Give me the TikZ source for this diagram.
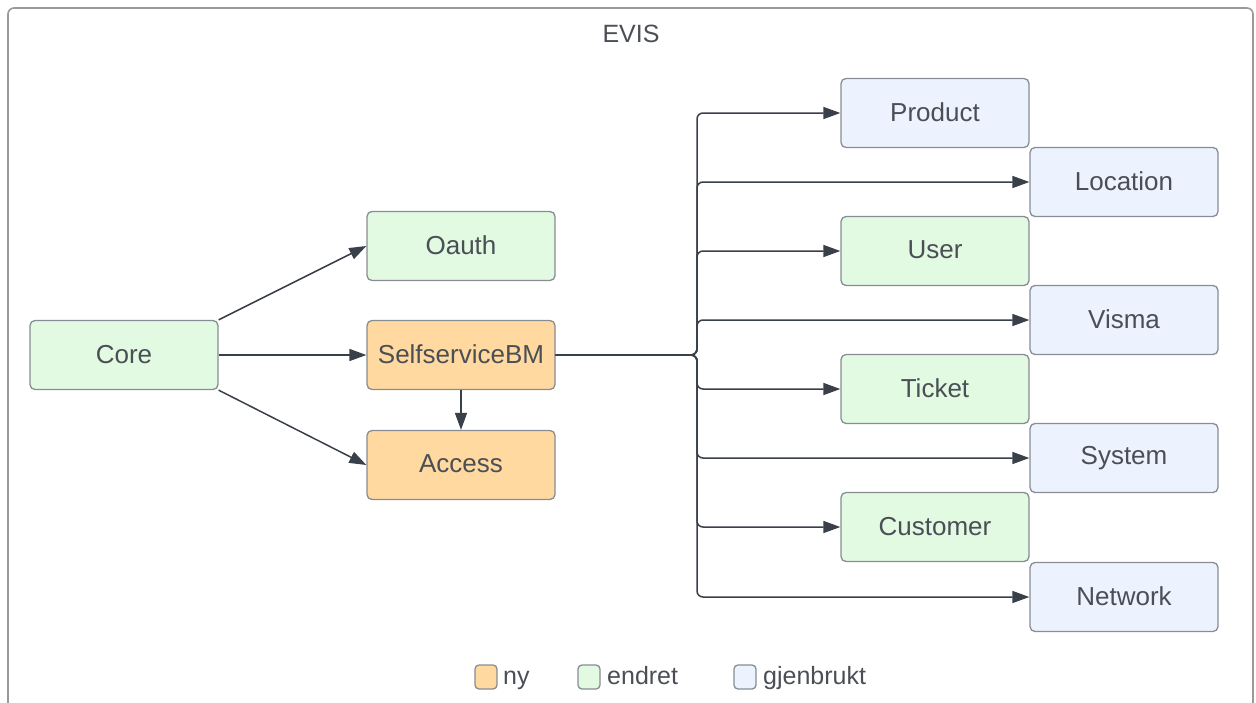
\documentclass[tikz,border=0pt]{standalone}
\usepackage{fontspec}
\setmainfont{Liberation Sans}
\usetikzlibrary{arrows.meta}
\definecolor{framecol}{HTML}{9A9A9A}
\definecolor{bordercol}{HTML}{878D92}
\definecolor{linecol}{HTML}{3A404A}
\definecolor{textcol}{HTML}{4A4F55}
\definecolor{nyfill}{HTML}{FFD9A0}
\definecolor{endretfill}{HTML}{E2F9E2}
\definecolor{gjenfill}{HTML}{ECF3FE}
\tikzset{
  box/.style={draw=bordercol, line width=1.3pt, rounded corners=5pt, minimum width=188pt, minimum height=69pt, inner sep=0pt, text=textcol, font=\fontsize{26}{30}\selectfont},
  nybox/.style={box, fill=nyfill},
  endretbox/.style={box, fill=endretfill},
  gjenbox/.style={box, fill=gjenfill},
  conn/.style={draw=linecol, line width=1.5pt, -{Triangle[length=17pt,width=12pt]}},
  bus/.style={conn, rounded corners=6pt},
  legsq/.style={draw=bordercol, line width=1.3pt, rounded corners=4pt, minimum width=22pt, minimum height=24pt, inner sep=0pt},
  legtext/.style={text=textcol, font=\fontsize{25}{28}\selectfont, inner sep=0pt, anchor=base west},
}
\begin{document}
\begin{tikzpicture}[x=1pt,y=-1pt]
\useasboundingbox (0,0) rectangle (1256,702);
\begin{scope}
\clip (0,0) rectangle (1256,702);
\draw[framecol, line width=1.6pt, rounded corners=6pt] (8,8) rectangle (1253,740);
\end{scope}
\node[text=textcol, font=\fontsize{25}{28}\selectfont] (title) at (631,34) {EVIS};

\node[endretbox] (core) at (124,355) {\raisebox{2pt}{Core}};
\node[endretbox] (oauth) at (461,246) {\raisebox{2pt}{Oauth}};
\node[nybox] (self) at (461,355) {\raisebox{2pt}{SelfserviceBM}};
\node[nybox] (access) at (461,465) {\raisebox{2pt}{Access}};

\node[gjenbox] (product) at (935,113) {\raisebox{2pt}{Product}};
\node[gjenbox] (location) at (1124,182) {\raisebox{2pt}{Location}};
\node[endretbox] (user) at (935,251) {\raisebox{2pt}{User}};
\node[gjenbox] (visma) at (1124,320) {\raisebox{2pt}{Visma}};
\node[endretbox] (ticket) at (935,389) {\raisebox{2pt}{Ticket}};
\node[gjenbox] (system) at (1124,458) {\raisebox{2pt}{System}};
\node[endretbox] (customer) at (935,527) {\raisebox{2pt}{Customer}};
\node[gjenbox] (network) at (1124,597) {\raisebox{2pt}{Network}};

\coordinate (j) at (697,355);

\draw[conn] (core.north east) -- (oauth.west);
\draw[conn] (core.east) -- (self.west);
\draw[conn] (core.south east) -- (access.west);
\draw[conn] (self.south) -- (access.north);

\foreach \t in {product,location,user,visma,ticket,system,customer,network}{
  \draw[bus] (self.east) -- (j) |- (\t.west);
}

\node[legsq, fill=nyfill] (lny) at (486,677) {};
\node[legtext] (tny) at (503,684) {ny};
\node[legsq, fill=endretfill] (lendret) at (589,677) {};
\node[legtext] (tendret) at (607,684) {endret};
\node[legsq, fill=gjenfill] (lgjen) at (745,677) {};
\node[legtext] (tgjen) at (763,684) {gjenbrukt};
\end{tikzpicture}
\end{document}
